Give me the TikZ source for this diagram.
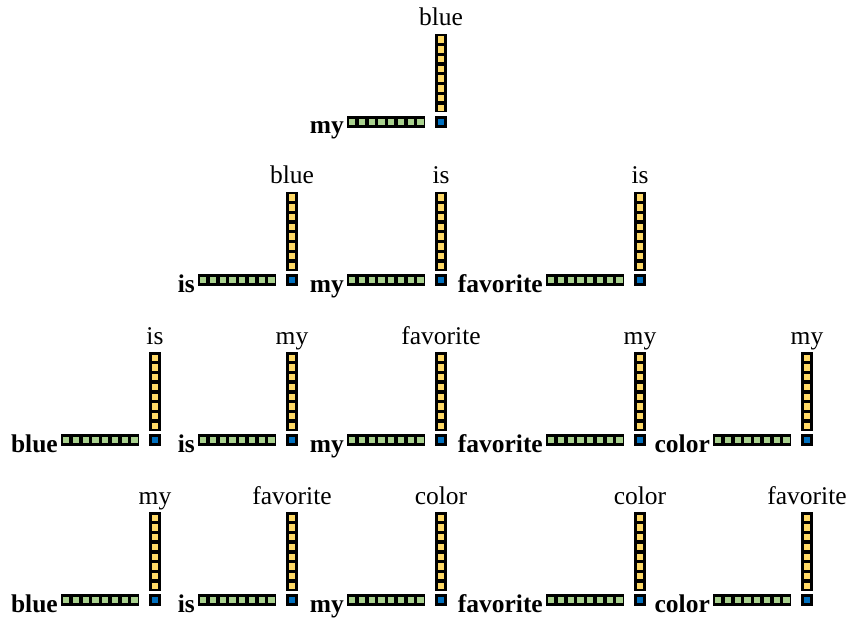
\documentclass[tikz,border=0pt]{standalone}
\usepackage{fontspec}
\setmainfont{Liberation Serif}
\usepackage{tikz}
\usetikzlibrary{positioning,calc}

\definecolor{cellgreen}{RGB}{169,209,142}
\definecolor{cellyellow}{RGB}{255,217,102}
\definecolor{cellblue}{RGB}{0,112,192}

% one unit: name, x, y (centre of the blue cell), input word, output word
\newcommand{\wordunit}[5]{%
  % input bar
  \fill[black] (#2-94.5,#3-6) rectangle (#2-16,#3+6);
  \foreach \i in {0,...,7}
    \fill[cellgreen] (#2-92+\i*9.75,#3-3.2) rectangle +(6.4,6.4);
  % hidden cell
  \fill[black] (#2-6,#3-6) rectangle (#2+6,#3+6);
  \fill[cellblue] (#2-3.2,#3-3.2) rectangle (#2+3.2,#3+3.2);
  % output bar
  \fill[black] (#2-6,#3-88) rectangle (#2+6,#3-9.5);
  \foreach \i in {0,...,7}
    \fill[cellyellow] (#2-3.2,#3-85.5+\i*9.75) rectangle +(6.4,6.4);
  \node[inword] (#1-in) at (#2-97,#3+12) {#4};
  \node[outword] (#1-out) at (#2,#3-96) {#5};
}

\begin{document}
\begin{tikzpicture}[x=1pt, y=-1pt,
        inword/.style={anchor=base east,inner sep=0pt,font=\fontsize{25.5}{30}\selectfont\bfseries},
        outword/.style={anchor=base,inner sep=0pt,font=\fontsize{25.5}{30}\selectfont}]
        \useasboundingbox (0,0) rectangle (853,620);
        % first step
        \wordunit{a3}{441}{122}{my}{blue}
        % second step
        \wordunit{b2}{292}{280}{is}{blue}
        \wordunit{b3}{441}{280}{my}{is}
        \wordunit{b4}{640}{280}{favorite}{is}
        % third step
        \wordunit{c1}{155}{440}{blue}{is}
        \wordunit{c2}{292}{440}{is}{my}
        \wordunit{c3}{441}{440}{my}{favorite}
        \wordunit{c4}{640}{440}{favorite}{my}
        \wordunit{c5}{807}{440}{color}{my}
        % fourth step
        \wordunit{d1}{155}{600}{blue}{my}
        \wordunit{d2}{292}{600}{is}{favorite}
        \wordunit{d3}{441}{600}{my}{color}
        \wordunit{d4}{640}{600}{favorite}{color}
        \wordunit{d5}{807}{600}{color}{favorite}
\end{tikzpicture}
\end{document}
